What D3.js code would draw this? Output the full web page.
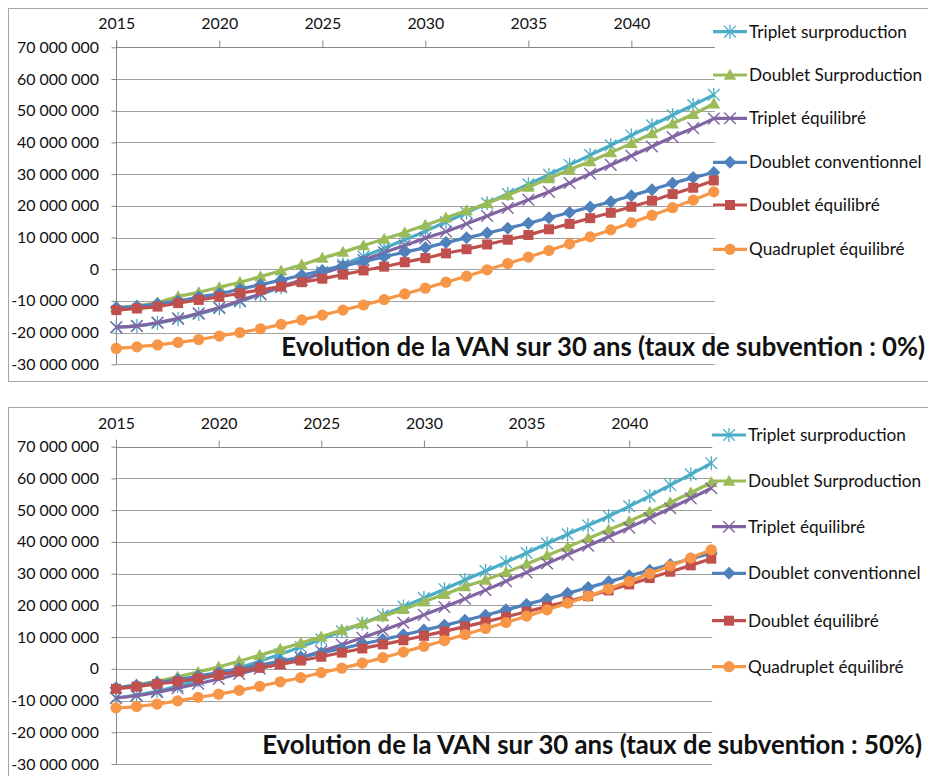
<!DOCTYPE html>
<html>
<head>
<meta charset="utf-8">
<script src="https://cdn.jsdelivr.net/npm/d3@7"></script>
<style>
  body { margin: 0; background: #fff; }
  svg { display: block; }
  text { font-family: Lato, "Open Sans", sans-serif; fill: #111; }
</style>
</head>
<body>
<svg id="chart" width="928" height="776"></svg>
<script>
'use strict';

// years on the x axis
const years = [2015, 2016, 2017, 2018, 2019, 2020, 2021, 2022, 2023, 2024,
               2025, 2026, 2027, 2028, 2029, 2030, 2031, 2032, 2033, 2034,
               2035, 2036, 2037, 2038, 2039, 2040, 2041, 2042, 2043, 2044];
const xTicks = [2015, 2020, 2025, 2030, 2035, 2040];
const yTicks = [-30, -20, -10, 0, 10, 20, 30, 40, 50, 60, 70]; // millions

const seriesNames = ['Triplet surproduction', 'Doublet Surproduction', 'Triplet équilibré',
                     'Doublet conventionnel', 'Doublet équilibré', 'Quadruplet équilibré'];

// VAN in millions, subsidy rate 0%
const tripletSurprod0 = [-18.3, -17.9, -17.0, -15.7, -14.1, -12.3, -10.2, -8.0, -5.7, -3.3,
                         -0.9, 1.5, 4.0, 6.6, 9.3, 12.0, 14.9, 17.8, 20.8, 23.8,
                         26.8, 29.8, 32.9, 36.0, 39.1, 42.2, 45.4, 48.6, 51.8, 55.0];
const doubletSurprod0 = [-12.1, -11.5, -10.5, -8.6, -7.3, -5.7, -4.1, -2.3, -0.5, 1.4,
                         3.5, 5.4, 7.5, 9.5, 11.6, 13.9, 16.2, 18.5, 20.8, 23.4,
                         25.9, 28.6, 31.4, 34.0, 36.8, 39.7, 42.8, 45.9, 48.9, 52.2];
const tripletEquil0 = [-18.3, -17.9, -16.8, -15.5, -13.9, -12.1, -9.9, -7.8, -5.5, -3.4,
                       -1.3, 0.8, 2.9, 5.3, 7.5, 9.8, 11.9, 14.3, 16.8, 19.3,
                       21.9, 24.4, 27.2, 30.1, 32.9, 35.8, 38.7, 41.7, 44.5, 47.5];
const doubletConv0 = [-12.1, -11.7, -10.9, -10.0, -8.8, -7.7, -6.3, -4.9, -3.4, -1.9,
                      -0.4, 1.1, 2.4, 3.9, 5.4, 6.8, 8.4, 9.9, 11.4, 12.9,
                      14.5, 16.2, 17.9, 19.6, 21.3, 23.2, 25.1, 27.1, 28.9, 30.5];
const doubletEquil0 = [-12.9, -12.4, -11.8, -10.7, -9.7, -8.7, -7.6, -6.5, -5.5, -4.1,
                       -3.0, -1.7, -0.4, 0.8, 2.2, 3.5, 5.0, 6.3, 7.8, 9.3,
                       10.8, 12.6, 14.3, 16.1, 17.8, 19.7, 21.6, 23.7, 25.7, 28.0];
const quadEquil0 = [-25.0, -24.5, -23.9, -23.1, -22.2, -21.1, -20.0, -18.8, -17.4, -16.0,
                    -14.5, -12.9, -11.3, -9.6, -7.8, -6.0, -4.1, -2.2, -0.2, 1.8,
                    3.8, 5.9, 8.0, 10.2, 12.4, 14.7, 17.0, 19.4, 21.8, 24.4];

// VAN in millions, subsidy rate 50%
const tripletSurprod50 = [-9.2, -8.3, -7.0, -5.4, -3.6, -1.7, 0.3, 2.4, 4.6, 6.9,
                          9.3, 11.8, 14.3, 16.9, 19.6, 22.3, 25.1, 28.0, 30.8, 33.6,
                          36.5, 39.5, 42.4, 45.2, 48.1, 51.2, 54.5, 57.9, 61.3, 64.8];
const doubletSurprod50 = [-6.1, -5.0, -3.9, -2.5, -1.0, 0.6, 2.4, 4.3, 6.2, 8.1,
                          10.1, 12.2, 14.3, 16.5, 18.8, 21.1, 23.5, 25.9, 28.0, 30.4,
                          33.0, 35.7, 38.4, 41.1, 43.8, 46.5, 49.4, 52.4, 55.5, 58.7];
const tripletEquil50 = [-9.2, -8.5, -7.4, -6.1, -4.7, -3.2, -1.6, 0.0, 1.7, 3.5,
                        5.5, 7.6, 9.8, 12.1, 14.5, 17.0, 19.5, 22.1, 24.8, 27.6,
                        30.4, 33.2, 36.0, 38.8, 41.6, 44.5, 47.5, 50.6, 53.7, 56.9];
const doubletConv50 = [-6.0, -5.2, -4.3, -3.4, -2.3, -1.2, 0.0, 1.2, 2.4, 3.7,
                       5.0, 6.4, 7.8, 9.2, 10.7, 12.2, 13.7, 15.3, 16.9, 18.6,
                       20.3, 22.0, 23.8, 25.6, 27.4, 29.3, 31.1, 32.9, 34.7, 36.4];
const doubletEquil50 = [-6.3, -5.6, -4.8, -4.0, -3.0, -1.9, -0.8, 0.3, 1.4, 2.6,
                        3.8, 5.1, 6.4, 7.7, 9.0, 10.4, 11.8, 13.3, 14.8, 16.4,
                        18.0, 19.6, 21.2, 22.9, 24.7, 26.6, 28.6, 30.6, 32.6, 34.7];
const quadEquil50 = [-12.3, -11.9, -11.1, -10.1, -9.0, -8.0, -6.8, -5.5, -4.1, -2.8,
                     -1.2, 0.2, 1.8, 3.5, 5.3, 7.1, 8.9, 10.8, 12.7, 14.6,
                     16.6, 18.6, 20.7, 22.9, 25.2, 27.6, 30.0, 32.4, 34.9, 37.5];

const COLOR = ['#4BACC6', '#9BBB59', '#8064A2', '#4F81BD', '#C0504D', '#F79646'];
const MARKER = ['star', 'triangle', 'x', 'diamond', 'square', 'circle'];

const svg = d3.select('#chart');

function fmt(v) {
    if (v === 0) return '0';
    let s = d3.format(',')(Math.abs(v) * 1e6).replace(/,/g, ' ');
    return (v < 0 ? '-' : '') + s;
}

// make a text fit a given width by scaling its font size
function fitWidth(sel, target) {
    let w = sel.node().getComputedTextLength();
    let fs = parseFloat(sel.attr('font-size'));
    return fs * target / w;
}

function marker(g, type, color, cx, cy) {
    let r = 5;
    if (type == 'circle') {
        g.append('circle').attr('cx', cx).attr('cy', cy).attr('r', r + 0.6).attr('fill', color);
    } else if (type == 'square') {
        g.append('rect').attr('x', cx - r).attr('y', cy - r).attr('width', 2 * r).attr('height', 2 * r).attr('fill', color);
    } else if (type == 'diamond') {
        let d = r + 1.5;
        g.append('path').attr('d', `M${cx},${cy - d}L${cx + d},${cy}L${cx},${cy + d}L${cx - d},${cy}Z`).attr('fill', color);
    } else if (type == 'triangle') {
        let d = r + 1.3;
        g.append('path').attr('d', `M${cx},${cy - d}L${cx + d},${cy + d * 0.75}L${cx - d},${cy + d * 0.75}Z`).attr('fill', color);
    } else if (type == 'x') {
        let d = r + 0.8;
        g.append('path').attr('d', `M${cx - d},${cy - d}L${cx + d},${cy + d}M${cx - d},${cy + d}L${cx + d},${cy - d}`)
            .attr('stroke', color).attr('stroke-width', 1.4).attr('fill', 'none');
    } else { // star
        let d = r + 0.8;
        g.append('path').attr('d', `M${cx - d},${cy - d}L${cx + d},${cy + d}M${cx - d},${cy + d}L${cx + d},${cy - d}M${cx},${cy - d - 1.2}L${cx},${cy + d + 1.2}`)
            .attr('stroke', color).attr('stroke-width', 1.3).attr('fill', 'none');
    }
}

function drawPanel(p) {
    const x = d3.scaleLinear().domain([2015, 2044]).range([p.left, p.right]);
    const y = d3.scaleLinear().domain([-30, 70]).range([p.bottom, p.top]);
    const g = svg.append('g');

    // chart frame
    g.append('rect')
        .attr('x', 8.5).attr('y', p.frameTop)
        .attr('width', 1000).attr('height', p.frameBottom - p.frameTop)
        .attr('fill', 'none').attr('stroke', '#a6a6a6');

    // horizontal gridlines
    g.append('g').selectAll('line')
        .data(yTicks.filter(function(d) { return d < 70; }))
        .join('line')
        .attr('x1', p.left).attr('x2', p.right + 1)
        .attr('y1', function(d) { return Math.round(y(d)) + 0.5; })
        .attr('y2', function(d) { return Math.round(y(d)) + 0.5; })
        .attr('stroke', '#a0a0a0');

    // y axis
    const ya = g.append('g')
        .attr('transform', `translate(${Math.round(p.left) + 0.5},0)`)
        .call(d3.axisLeft(y).tickValues(yTicks).tickFormat(fmt).tickSize(5).tickSizeOuter(0).tickPadding(12.5));
    ya.select('.domain').attr('stroke', '#868686').attr('d', `M0,${p.top - 7}V${p.bottom}`);
    ya.selectAll('.tick line').attr('stroke', '#868686');
    ya.selectAll('.tick text').attr('font-size', p.tickFs).attr('font-family', null).attr('fill', '#111');

    // x axis on top
    const xa = g.append('g')
        .attr('transform', `translate(0,${Math.round(p.top) + 0.5})`)
        .call(d3.axisTop(x).tickValues(xTicks).tickFormat(d3.format('d')).tickSize(7).tickSizeOuter(0).tickPadding(12));
    xa.select('.domain').attr('stroke', '#868686').attr('d', `M${p.left},0H${p.right + 1}`);
    xa.selectAll('.tick line').attr('stroke', '#868686');
    xa.selectAll('.tick text').attr('font-size', p.tickFs).attr('font-family', null).attr('fill', '#111');

    // series
    const line = d3.line()
        .x(function(d, i) { return x(years[i]); })
        .y(function(d) { return y(d); })
        .curve(d3.curveMonotoneX);

    p.series.forEach(function(values, k) {
        const sg = g.append('g');
        sg.append('path')
            .attr('d', line(values))
            .attr('fill', 'none')
            .attr('stroke', COLOR[k])
            .attr('stroke-width', 3.2)
            .attr('stroke-linejoin', 'round');
        values.forEach(function(v, i) {
            marker(sg, MARKER[k], COLOR[k], x(years[i]), y(v));
        });
    });

    // legend
    const lg = g.append('g');
    seriesNames.forEach(function(name, k) {
        const ly = p.legendY[k];
        lg.append('line')
            .attr('x1', p.legendX).attr('x2', p.legendX + 34)
            .attr('y1', ly).attr('y2', ly)
            .attr('stroke', COLOR[k]).attr('stroke-width', 3.2);
        marker(lg, MARKER[k], COLOR[k], p.legendX + 17, ly);
        lg.append('text')
            .attr('class', 'legend-text')
            .attr('x', p.legendX + 36).attr('y', ly)
            .attr('dy', '0.35em')
            .attr('font-size', 15)
            .text(name);
    });
    const lt = lg.select('.legend-text');
    const lfs = fitWidth(lt, 158);
    lg.selectAll('.legend-text').attr('font-size', lfs);

    // title
    const t = g.append('text')
        .attr('x', p.titleRight).attr('y', p.titleY)
        .attr('text-anchor', 'end')
        .attr('font-weight', 'bold')
        .attr('font-size', 20)
        .text(p.title);
    t.attr('font-size', fitWidth(t, p.titleW));
}

// y tick font size from the width of "70 000 000"
const probe = svg.append('text').attr('font-size', 16).text(fmt(70));
const tickFs = fitWidth(probe, 82);
probe.remove();

drawPanel({
    left: 116.3, right: 713.8, top: 47.3, bottom: 364.3,
    frameTop: 8.5, frameBottom: 381.5,
    legendX: 713, legendY: [31.7, 75, 118.3, 162.3, 205, 249.3],
    title: 'Evolution de la VAN sur 30 ans (taux de subvention : 0%)',
    titleRight: 925, titleY: 356, titleW: 644,
    tickFs: tickFs,
    series: [tripletSurprod0, doubletSurprod0, tripletEquil0, doubletConv0, doubletEquil0, quadEquil0]
});

drawPanel({
    left: 116, right: 711.3, top: 446.7, bottom: 764,
    frameTop: 407.5, frameBottom: 820,
    legendX: 712, legendY: [435, 481, 526.7, 573.3, 620.7, 666.7],
    title: 'Evolution de la VAN sur 30 ans (taux de subvention : 50%)',
    titleRight: 922, titleY: 754, titleW: 660,
    tickFs: tickFs,
    series: [tripletSurprod50, doubletSurprod50, tripletEquil50, doubletConv50, doubletEquil50, quadEquil50]
});
</script>
</body>
</html>
